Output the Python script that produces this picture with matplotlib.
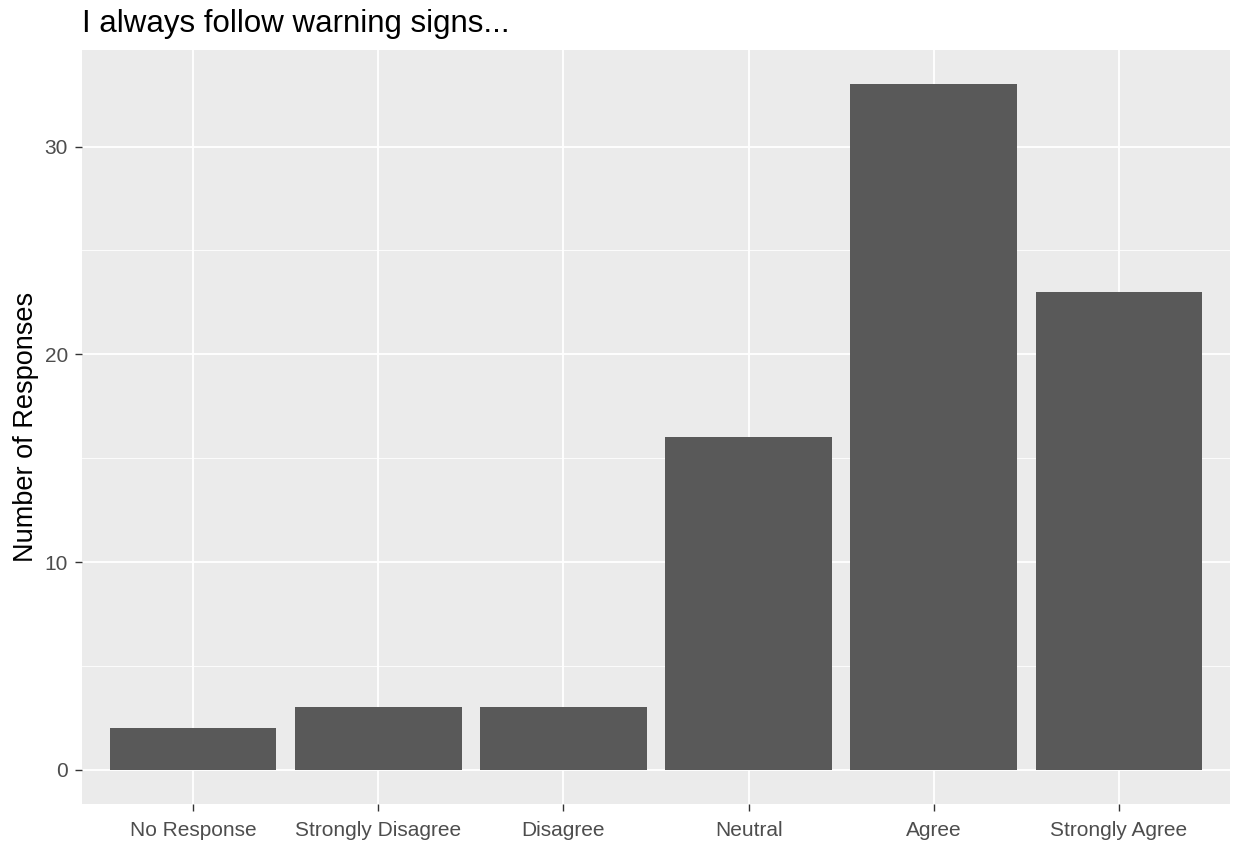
import matplotlib
matplotlib.use("Agg")
import matplotlib.pyplot as plt
import numpy as np

categories = ["No Response", "Strongly Disagree", "Disagree", "Neutral", "Agree", "Strongly Agree"]
counts = [2, 3, 3, 16, 33, 23]
title = "I always follow warning signs..."
ylabel = "Number of Responses"

plt.rcParams['font.family'] = ['Liberation Sans', 'DejaVu Sans']

fig = plt.figure(figsize=(12.35, 8.41), dpi=100)
ax = fig.add_axes([82/1235, 1 - 804/841, (1230-82)/1235, (804-50)/841])
ax.set_facecolor('#EBEBEB')

x = np.arange(1, len(categories) + 1)
ax.bar(x, counts, width=0.9, color='#595959', zorder=3)

ymax = max(counts)
ax.set_ylim(-0.05 * ymax, ymax * 1.05)
ax.set_xlim(0.4, len(categories) + 0.6)

ax.set_yticks([0, 10, 20, 30])
ax.set_yticks([5, 15, 25], minor=True)
ax.set_xticks(x)
ax.set_xticklabels(categories)

ax.grid(True, which='major', color='white', linewidth=1.3, zorder=0)
ax.grid(True, which='minor', axis='y', color='white', linewidth=0.6, zorder=0)
ax.set_axisbelow(True)

for s in ax.spines.values():
    s.set_visible(False)

ax.tick_params(axis='both', which='major', colors='#333333', labelcolor='#4D4D4D',
               labelsize=15, length=5, width=1, pad=5)
ax.tick_params(axis='x', which='major', pad=7)
ax.tick_params(axis='both', which='minor', length=0)

ax.set_ylabel(ylabel, fontsize=19.5, color='black', labelpad=4)
ax.set_title(title, loc='left', fontsize=22.5, color='black', pad=13)

fig.savefig("out.png", dpi=100)
